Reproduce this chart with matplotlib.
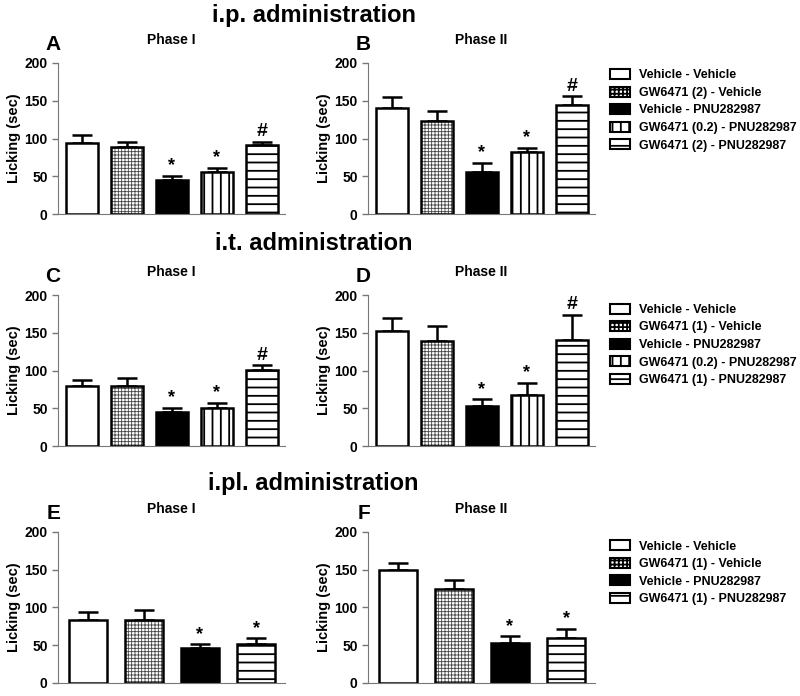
import numpy as np
import matplotlib.pyplot as plt
from matplotlib.patches import Patch

plt.rcParams['font.family'] = ['Liberation Sans', 'DejaVu Sans']
plt.rcParams['font.weight'] = 'bold'
plt.rcParams['hatch.linewidth'] = 1.3

# data (mean, SEM)
ip_groups = ['Vehicle - Vehicle', 'GW6471 (2) - Vehicle', 'Vehicle - PNU282987',
             'GW6471 (0.2) - PNU282987', 'GW6471 (2) - PNU282987']
ip_phase1 = [94, 89, 45, 55, 92]
ip_phase1_err = [10, 6, 6, 6, 4]
ip_phase2 = [141, 123, 56, 82, 145]
ip_phase2_err = [14, 14, 12, 6, 11]
ip_marks = ['', '', '*', '*', '#']

it_groups = ['Vehicle - Vehicle', 'GW6471 (1) - Vehicle', 'Vehicle - PNU282987',
             'GW6471 (0.2) - PNU282987', 'GW6471 (1) - PNU282987']
it_phase1 = [79, 80, 45, 51, 101]
it_phase1_err = [9, 10, 6, 6, 6]
it_phase2 = [153, 139, 53, 68, 141]
it_phase2_err = [17, 20, 9, 16, 33]
it_marks = ['', '', '*', '*', '#']

ipl_groups = ['Vehicle - Vehicle', 'GW6471 (1) - Vehicle', 'Vehicle - PNU282987',
              'GW6471 (1) - PNU282987']
ipl_phase1 = [84, 84, 46, 52]
ipl_phase1_err = [10, 12, 5, 7]
ipl_phase2 = [149, 124, 53, 60]
ipl_phase2_err = [10, 12, 9, 12]
ipl_marks = ['', '', '*', '*']

styles5 = [('white', ''), ('white', '+++++'), ('black', ''), ('white', '||'), ('white', '--')]
styles4 = [('white', ''), ('white', '+++++'), ('black', ''), ('white', '--')]


def draw_panel(ax, vals, errs, marks, styles, letter, phase, width):
    n = len(vals)
    x = np.arange(n)
    for i in range(n):
        fc, h = styles[i]
        if h == '+++++':
            # fine grey grid, then the black outline on top
            with plt.rc_context({'hatch.linewidth': 0.6}):
                ax.bar(x[i], vals[i], width=width, color='white', edgecolor='#444444',
                       linewidth=0, hatch=h, zorder=2)
            ax.bar(x[i], vals[i], width=width, fill=False, edgecolor='black',
                   linewidth=1.8, zorder=3)
        else:
            ax.bar(x[i], vals[i], width=width, color=fc, edgecolor='black',
                   linewidth=1.8, hatch=h, zorder=2)
    ax.errorbar(x, vals, yerr=[np.zeros(n), errs], fmt='none', ecolor='black',
                elinewidth=1.8, capsize=7.5, capthick=1.8, zorder=1)
    for i in range(n):
        if marks[i]:
            ax.text(x[i], vals[i] + errs[i] + 2, marks[i], ha='center', va='bottom',
                    fontsize=14 if marks[i] == '#' else 13, fontweight='bold')
    ax.set_xlim(-0.53, n - 0.48)
    ax.set_ylim(0, 200)
    ax.set_yticks([0, 50, 100, 150, 200])
    ax.set_xticks([])
    ax.spines['top'].set_visible(False)
    ax.spines['right'].set_visible(False)
    ax.spines['left'].set_color('#777777')
    ax.spines['bottom'].set_color('#777777')
    ax.tick_params(axis='y', labelsize=10, color='#777777', length=4, width=1)
    for t in ax.get_yticklabels():
        t.set_fontweight('bold')
    ax.set_ylabel('Licking (sec)', fontsize=10.5, fontweight='bold')
    ax.yaxis.set_label_coords(-0.165, 0.5)
    ax.set_title(phase, fontsize=10, fontweight='bold', pad=14)
    ax.text(0.01, 1.06, letter, transform=ax.transAxes, fontsize=15,
            fontweight='bold', ha='right', va='bottom')


def add_legend(fig, groups, styles, top):
    handles = []
    for fc, h in styles:
        handles.append(Patch(facecolor=fc, edgecolor='black', hatch=h.replace('+++++', '++++'),
                             linewidth=1.5))
    fig.legend(handles, groups, loc='upper left', bbox_to_anchor=(0.748, top),
               frameon=False, handlelength=1.6, handleheight=0.85,
               labelspacing=0.42, handletextpad=0.75, prop={'weight': 'bold', 'size': 9})


fig = plt.figure(figsize=(8, 6.96), dpi=100)

rows = [
    (0.6925, 'i.p. administration', 0.978, ip_groups, styles5,
     ip_phase1, ip_phase1_err, ip_phase2, ip_phase2_err, ip_marks, 'A', 'B', 0.71, 0.917),
    (0.359, 'i.t. administration', 0.650, it_groups, styles5,
     it_phase1, it_phase1_err, it_phase2, it_phase2_err, it_marks, 'C', 'D', 0.71, 0.580),
    (0.0187, 'i.pl. administration', 0.305, ipl_groups, styles4,
     ipl_phase1, ipl_phase1_err, ipl_phase2, ipl_phase2_err, ipl_marks, 'E', 'F', 0.67, 0.240),
]

for bottom, title, ty, groups, sty, p1, e1, p2, e2, mk, l1, l2, w, legtop in rows:
    ax1 = fig.add_axes([0.0725, bottom, 0.284, 0.217])
    ax2 = fig.add_axes([0.46, bottom, 0.284, 0.217])
    draw_panel(ax1, p1, e1, mk, sty, l1, 'Phase I', w)
    draw_panel(ax2, p2, e2, mk, sty, l2, 'Phase II', w)
    fig.text(0.392, ty, title, ha='center', va='center', fontsize=17, fontweight='bold')
    add_legend(fig, groups, sty, legtop)

fig.savefig('out.png', dpi=100)
